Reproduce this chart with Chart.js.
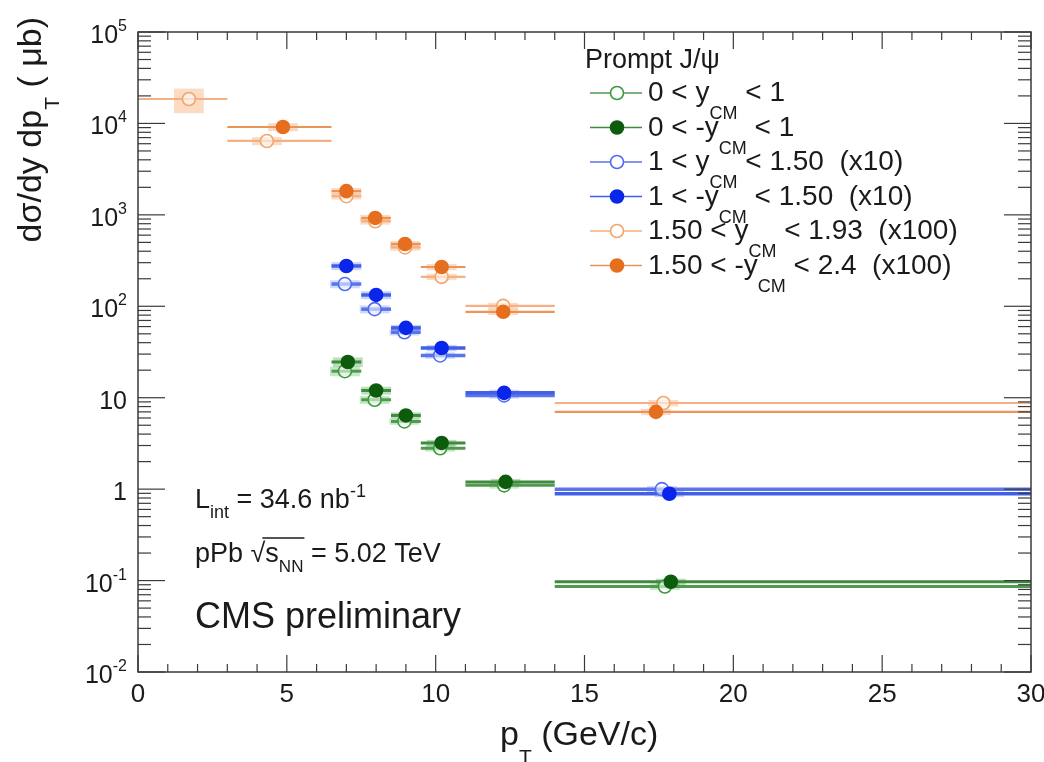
<!DOCTYPE html>
<html lang="en">
<head>
<meta charset="UTF-8">
<title>Prompt J/psi cross section, pPb</title>
<script src="https://cdn.jsdelivr.net/npm/chart.js"></script>
<style>
  html, body { margin: 0; padding: 0; background: #fff; }
  canvas { display: block; }
</style>
</head>
<body>
<canvas id="chart" width="1044" height="762"></canvas>
<script>
const FONT = '"Liberation Sans", Arial, sans-serif';

// axis ticks
const xTicks = [0, 5, 10, 15, 20, 25, 30];
const yTicks = [1e-2, 1e-1, 1, 10, 1e2, 1e3, 1e4, 1e5];
const yTickLabels = ['10^-2', '10^-1', '1', '10', '10^2', '10^3', '10^4', '10^5'];

// pT bins (GeV/c)
const binLo = [6.5, 7.5, 8.5, 9.5, 11, 14];
const binHi = [7.5, 8.5, 9.5, 11, 14, 30];
const binLoOrangeOpen = [0, 3, 6.5, 7.5, 8.5, 9.5, 11, 14];
const binHiOrangeOpen = [3, 6.5, 7.5, 8.5, 9.5, 11, 14, 30];
const binLoOrangeFull = [3, 6.5, 7.5, 8.5, 9.5, 11, 14];
const binHiOrangeFull = [6.5, 7.5, 8.5, 9.5, 11, 14, 30];

// 0 < y_CM < 1
const ptGreenOpen = [6.95, 7.95, 8.95, 10.15, 12.3, 17.7];
const valGreenOpen = [19.5, 9.5, 5.5, 2.8, 1.1, 0.086];
const sysGreenOpen = [0.12, 0.1, 0.08, 0.08, 0.08, 0.08];
// 0 < -y_CM < 1
const ptGreenFull = [7.05, 8.0, 9.0, 10.2, 12.35, 17.9];
const valGreenFull = [24.6, 12.0, 6.4, 3.2, 1.2, 0.097];
const sysGreenFull = [0.12, 0.1, 0.08, 0.08, 0.08, 0.08];
// 1 < y_CM < 1.50 (x10)
const ptBlueOpen = [6.95, 7.95, 8.95, 10.15, 12.3, 17.6];
const valBlueOpen = [175, 93, 52, 29, 10.6, 1.0];
const sysBlueOpen = [0.1, 0.1, 0.08, 0.08, 0.08, 0.08];
// 1 < -y_CM < 1.50 (x10)
const ptBlueFull = [7.0, 8.0, 9.0, 10.2, 12.3, 17.85];
const valBlueFull = [276, 133, 58, 35, 11.3, 0.89];
const sysBlueFull = [0.1, 0.1, 0.08, 0.08, 0.08, 0.08];
// 1.50 < y_CM < 1.93 (x100)
const ptOrangeOpen = [1.71, 4.33, 7.0, 7.97, 8.97, 10.2, 12.27, 17.65];
const valOrangeOpen = [18500, 6430, 1600, 850, 440, 210, 101, 8.75];
const sysOrangeOpen = [0.3, 0.1, 0.08, 0.08, 0.08, 0.08, 0.08, 0.08];
// 1.50 < -y_CM < 2.4 (x100)
const ptOrangeFull = [4.87, 7.0, 7.97, 8.97, 10.2, 12.27, 17.4];
const valOrangeFull = [9140, 1820, 925, 480, 269, 87, 7.0];
const sysOrangeFull = [0.1, 0.08, 0.08, 0.08, 0.08, 0.08, 0.08];

const legendParts = [
  ['0 < y', 'CM', ' < 1'],
  ['0 < -y', 'CM', ' < 1'],
  ['1 < y', 'CM', ' < 1.50  (x10)'],
  ['1 < -y', 'CM', ' < 1.50  (x10)'],
  ['1.50 < y', 'CM', ' < 1.93  (x100)'],
  ['1.50 < -y', 'CM', ' < 2.4  (x100)']
];

function points(pt, val, lo, hi, sys) {
  return pt.map((p, i) => ({ x: p, y: val[i], lo: lo[i], hi: hi[i], sys: sys[i] }));
}

function series(i, data, open, c) {
  return {
    label: legendParts[i].join(''),
    data: data,
    pointRadius: 6.5,
    pointHoverRadius: 6.5,
    pointBorderWidth: 1.6,
    borderColor: c.edge,
    backgroundColor: open ? 'rgba(255,255,255,0.55)' : c.edge,
    showLine: false,
    order: open ? 1 : 0,
    barColor: c.bar,
    barWidth: c.barWidth,
    boxColor: c.box,
    open: open
  };
}

const greenO = { edge: '#3c9a3c', bar: '#4f9a4f', barWidth: 3, box: 'rgba(90,190,90,0.35)' };
const greenF = { edge: '#0d5c0d', bar: '#3f8a3f', barWidth: 3, box: 'rgba(60,160,60,0.35)' };
const blueO = { edge: '#4d6cf0', bar: '#5a74ec', barWidth: 3.5, box: 'rgba(100,130,245,0.3)' };
const blueF = { edge: '#0a26ea', bar: '#4060e6', barWidth: 3.5, box: 'rgba(80,110,240,0.3)' };
const orangeO = { edge: '#f2a66c', bar: '#f4b084', barWidth: 2.2, box: 'rgba(246,178,120,0.45)' };
const orangeF = { edge: '#e56f1e', bar: '#eb9458', barWidth: 2.2, box: 'rgba(240,150,90,0.35)' };

const datasets = [
  series(0, points(ptGreenOpen, valGreenOpen, binLo, binHi, sysGreenOpen), true, greenO),
  series(1, points(ptGreenFull, valGreenFull, binLo, binHi, sysGreenFull), false, greenF),
  series(2, points(ptBlueOpen, valBlueOpen, binLo, binHi, sysBlueOpen), true, blueO),
  series(3, points(ptBlueFull, valBlueFull, binLo, binHi, sysBlueFull), false, blueF),
  series(4, points(ptOrangeOpen, valOrangeOpen, binLoOrangeOpen, binHiOrangeOpen, sysOrangeOpen), true, orangeO),
  series(5, points(ptOrangeFull, valOrangeFull, binLoOrangeFull, binHiOrangeFull, sysOrangeFull), false, orangeF)
];

// draws text pieces one after another, each with its own size and vertical shift
function rich(ctx, x, y, segs) {
  let cx = x;
  const pos = [];
  segs.forEach(s => {
    ctx.font = s.f + 'px ' + FONT;
    ctx.fillText(s.t, cx, y + (s.dy || 0));
    const w = ctx.measureText(s.t).width;
    pos.push([cx, cx + w]);
    cx += w;
  });
  return pos;
}
function richWidth(ctx, segs) {
  let w = 0;
  segs.forEach(s => { ctx.font = s.f + 'px ' + FONT; w += ctx.measureText(s.t).width; });
  return w;
}
function seg(ctx, x0, y0, x1, y1) {
  ctx.beginPath(); ctx.moveTo(x0, y0); ctx.lineTo(x1, y1); ctx.stroke();
}

const rootStyle = {
  id: 'rootStyle',
  beforeDatasetsDraw(chart) {
    const { ctx, scales: { x, y } } = chart;
    ctx.save();
    // boxes first, then the bin bars
    chart.data.datasets.forEach(ds => {
      ctx.fillStyle = ds.boxColor;
      ds.data.forEach(p => {
        const x0 = x.getPixelForValue(p.x - 0.5), x1 = x.getPixelForValue(p.x + 0.5);
        const y0 = y.getPixelForValue(p.y * (1 + p.sys)), y1 = y.getPixelForValue(p.y * (1 - p.sys));
        ctx.fillRect(x0, y0, x1 - x0, y1 - y0);
      });
    });
    chart.data.datasets.forEach(ds => {
      ctx.strokeStyle = ds.barColor;
      ctx.lineWidth = ds.barWidth;
      ds.data.forEach(p => {
        const py = y.getPixelForValue(p.y);
        seg(ctx, x.getPixelForValue(p.lo), py, x.getPixelForValue(p.hi), py);
      });
    });
    ctx.restore();
  },
  afterDraw(chart) {
    const { ctx, chartArea: a, scales: { x, y } } = chart;
    ctx.save();
    ctx.fillStyle = '#1a1a1a';
    ctx.textBaseline = 'alphabetic';

    // frame and inward ticks on all four sides
    ctx.strokeStyle = '#3a3a3a';
    ctx.lineWidth = 1.5;
    ctx.strokeRect(a.left, a.top, a.right - a.left, a.bottom - a.top);
    ctx.lineWidth = 1.2;
    for (let v = xTicks[0]; v <= xTicks[xTicks.length - 1]; v++) {
      const px = x.getPixelForValue(v);
      const len = xTicks.includes(v) ? 17 : 8;
      seg(ctx, px, a.bottom, px, a.bottom - len);
      seg(ctx, px, a.top, px, a.top + len);
    }
    yTicks.forEach((d, i) => {
      const py = y.getPixelForValue(d);
      seg(ctx, a.left, py, a.left + 27, py);
      seg(ctx, a.right, py, a.right - 27, py);
      if (i < yTicks.length - 1) {
        for (let k = 2; k <= 9; k++) {
          const pm = y.getPixelForValue(d * k);
          seg(ctx, a.left, pm, a.left + 13, pm);
          seg(ctx, a.right, pm, a.right - 13, pm);
        }
      }
    });

    // tick labels
    ctx.textAlign = 'center';
    ctx.font = '26px ' + FONT;
    xTicks.forEach(v => ctx.fillText(String(v), x.getPixelForValue(v), 702));
    ctx.textAlign = 'left';
    yTicks.forEach((d, i) => {
      const [b, e] = yTickLabels[i].split('^');
      const segs = [{ t: b, f: 25 }];
      if (e) segs.push({ t: e, f: 16, dy: -12 });
      const w = richWidth(ctx, segs);
      rich(ctx, 127 - w, y.getPixelForValue(d) + 11, segs);
    });

    // axis titles
    rich(ctx, 500, 745, [{ t: 'p', f: 34 }, { t: 'T', f: 21, dy: 19 }, { t: ' (GeV/c)', f: 34 }]);
    const ySegs = [{ t: 'dσ/dy dp', f: 34 }, { t: 'T', f: 21, dy: 18 }, { t: ' ( μb)', f: 34 }];
    const yw = richWidth(ctx, ySegs);
    ctx.save();
    ctx.translate(41, 17 + yw);
    ctx.rotate(-Math.PI / 2);
    rich(ctx, 0, 0, ySegs);
    ctx.restore();

    // annotations
    rich(ctx, 195, 508, [{ t: 'L', f: 27 }, { t: 'int', f: 18, dy: 10 }, { t: ' = 34.6 nb', f: 27 }, { t: '-1', f: 18, dy: -11 }]);
    const pp = rich(ctx, 195, 562, [{ t: 'pPb ', f: 27 }, { t: '√', f: 27 }, { t: 's', f: 27 }, { t: 'NN', f: 17, dy: 10 }, { t: ' = 5.02 TeV', f: 27 }]);
    ctx.strokeStyle = '#1a1a1a';
    ctx.lineWidth = 1.5;
    seg(ctx, pp[1][1] - 3, 538, pp[3][1] + 1, 538);
    rich(ctx, 195, 628, [{ t: 'CMS preliminary', f: 36 }]);

    // legend
    ctx.font = '27px ' + FONT;
    ctx.fillText('Prompt J/ψ', 585, 68);
    chart.data.datasets.forEach((ds, i) => {
      const base = 101 + i * 34.5;
      const my = base - 8;
      ctx.strokeStyle = ds.barColor;
      ctx.lineWidth = 1.6;
      seg(ctx, 590, my, 642, my);
      ctx.beginPath();
      ctx.arc(617, my, 6.5, 0, Math.PI * 2);
      ctx.fillStyle = ds.open ? '#ffffff' : ds.borderColor;
      ctx.fill();
      ctx.strokeStyle = ds.borderColor;
      ctx.stroke();
      ctx.fillStyle = '#1a1a1a';
      const p = legendParts[i];
      rich(ctx, 648, base, [{ t: p[0], f: 28 }, { t: p[1], f: 18, dy: 18 }, { t: p[2], f: 28 }]);
    });
    ctx.restore();
  }
};

new Chart(document.getElementById('chart'), {
  type: 'scatter',
  data: { datasets: datasets },
  options: {
    responsive: false,
    animation: false,
    layout: { padding: { left: 138, right: 13, top: 32, bottom: 90 } },
    scales: {
      x: { type: 'linear', min: 0, max: 30, display: false },
      y: { type: 'logarithmic', min: 1e-2, max: 1e5, display: false }
    },
    plugins: { legend: { display: false }, tooltip: { enabled: false } }
  },
  plugins: [rootStyle]
});
</script>
</body>
</html>
